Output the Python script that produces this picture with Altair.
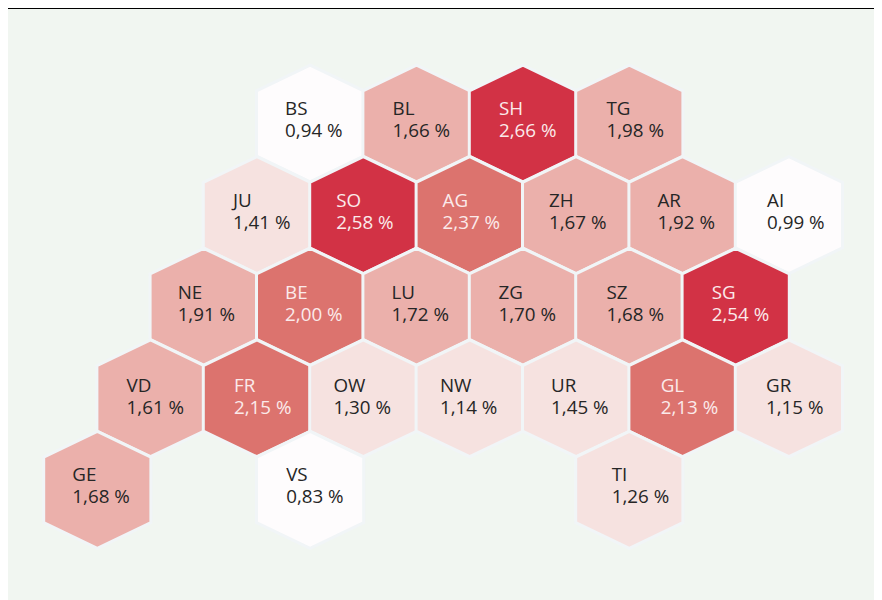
import altair as alt
import pandas as pd

names = ["BS","BL","SH","TG",
         "JU","SO","AG","ZH","AR","AI",
         "NE","BE","LU","ZG","SZ","SG",
         "VD","FR","OW","NW","UR","GL","GR",
         "GE","VS","TI"]
values = [0.94,1.66,2.66,1.98,
          1.41,2.58,2.37,1.67,1.92,0.99,
          1.91,2.00,1.72,1.70,1.68,2.54,
          1.61,2.15,1.30,1.14,1.45,2.13,1.15,
          1.68,0.83,1.26]
# grid position: column in half-cell steps, row index
cols = [5,7,9,11,
        4,6,8,10,12,14,
        3,5,7,9,11,13,
        2,4,6,8,10,12,14,
        1,5,11]
rows = [0,0,0,0,
        1,1,1,1,1,1,
        2,2,2,2,2,2,
        3,3,3,3,3,3,3,
        4,4,4]
# label start relative to the cell centre, in grid-column units
label_offset = [-0.47,-0.45,-0.45,-0.43,
                -0.45,-0.51,-0.51,-0.51,-0.47,-0.41,
                -0.49,-0.47,-0.47,-0.46,-0.43,-0.45,
                -0.45,-0.43,-0.56,-0.56,-0.47,-0.41,-0.43,
                -0.47,-0.45,-0.33]
# vertical label shift per grid row, in grid-row units
row_shift = [0, 0.011, 0.011, 0.025, 0.005]

df = pd.DataFrame({"name": names, "value": values, "col": cols, "row": rows})
df["label_x"] = [c + o for c, o in zip(cols, label_offset)]
df["label_y"] = [r + row_shift[r] for r in rows]
df["label"] = [f"{v:.2f}".replace(".", ",") + " %" for v in values]

W, H = 866, 592
PX, PY = 53.2, 91.6
x_scale = alt.Scale(domain=[-36.1 / PX, (W - 36.1) / PX], nice=False, zero=False)
y_scale = alt.Scale(domain=[-115.5 / PY, (H - 115.5) / PY], nice=False, zero=False, reverse=True)

hex_path = "M0,-1.09 L1,-0.61 L1,0.61 L0,1.09 L-1,0.61 L-1,-0.61 Z"
fill_scale = alt.Scale(type="threshold", domain=[1, 1.5, 2, 2.5],
                       range=["#fefcfd", "#f6e2e0", "#ebb0ab", "#dc736e", "#d23245"])
text_scale = alt.Scale(type="threshold", domain=[2], range=["#262626", "#fbeaea"])

x = alt.X("col:Q", scale=x_scale, axis=None)
y = alt.Y("row:Q", scale=y_scale, axis=None)

hexes = alt.Chart(df).mark_point(
    shape=hex_path, size=(2 * 53.6) ** 2, filled=True, opacity=1,
    stroke="#f1f5f7", strokeWidth=3, strokeOpacity=1, strokeJoin="miter",
).encode(x=x, y=y, fill=alt.Fill("value:Q", scale=fill_scale, legend=None))

lx = alt.X("label_x:Q", scale=x_scale, axis=None)
ly = alt.Y("label_y:Q", scale=y_scale, axis=None)
text_color = alt.Color("value:Q", scale=text_scale, legend=None)
name_text = alt.Chart(df).mark_text(
    align="left", baseline="middle", dy=-15, font="Open Sans", fontSize=18.8,
).encode(x=lx, y=ly, text="name:N", color=text_color)
value_text = alt.Chart(df).mark_text(
    align="left", baseline="middle", dy=7, font="Open Sans", fontSize=18.8,
).encode(x=lx, y=ly, text="label:N", color=text_color)

top_rule = alt.Chart(df).mark_rule(color="#000000", strokeWidth=1).encode(
    x=alt.value(0), x2=alt.value(W), y=alt.value(0.5))

chart = (
    alt.layer(hexes, name_text, value_text, top_rule)
    .resolve_scale(color="independent")
    .properties(width=W, height=H, background="#f1f6f1",
                padding=0, autosize=alt.AutoSizeParams(type="none"))
    .configure_view(stroke=None)
)
chart.save("out.html", embed_options={"renderer": "svg", "actions": False})
